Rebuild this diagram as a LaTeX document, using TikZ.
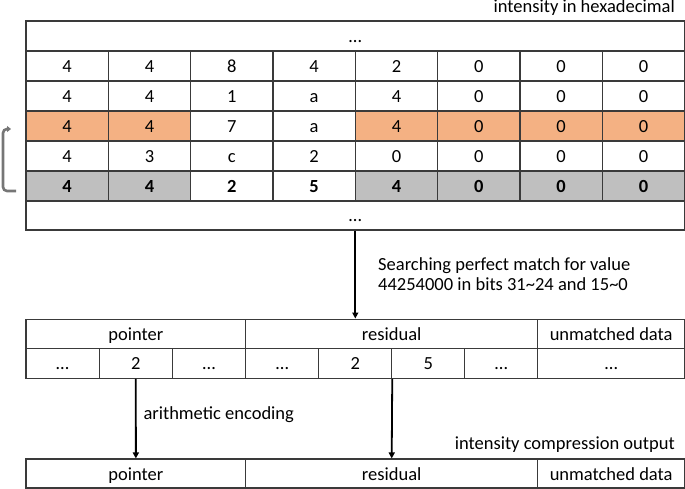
\documentclass[tikz,border=0pt]{standalone}
\usepackage{fontspec}
\setmainfont{Carlito}
\usetikzlibrary{arrows.meta}
\definecolor{lineC}{HTML}{3A3A3A}
\definecolor{orangeC}{HTML}{F4B183}
\definecolor{grayC}{HTML}{BFBFBF}
\definecolor{bracketC}{HTML}{767676}
\begin{document}
\begin{tikzpicture}[x=1pt,y=-1pt,
  txt/.style={font=\fontsize{18.5}{21.5}\selectfont, inner sep=0pt},
  boxed/.style={txt, draw=lineC, line width=1.1pt, minimum height=30pt, anchor=center, text height=13pt, text depth=0pt},
  cell/.style={boxed, minimum width=82.325pt},
  arr/.style={line width=1.8pt, -{Triangle[length=6pt,width=6pt]}},
  label/.style={txt, align=left}]
\useasboundingbox (0,0) rectangle (685,489);

% top table
\node[boxed, minimum width=658.6pt] (top) at (355.3,36) {…};
\foreach \v [count=\i] in {4,4,8,4,2,0,0,0}
  \node[cell] (ra\i) at ({26+82.325*(\i-0.5)},66) {\v};
\foreach \v [count=\i] in {4,4,1,a,4,0,0,0}
  \node[cell] (rb\i) at ({26+82.325*(\i-0.5)},96) {\v};
\foreach \v/\f [count=\i] in {4/orangeC,4/orangeC,7/white,a/white,4/orangeC,0/orangeC,0/orangeC,0/orangeC}
  \node[cell, fill=\f] (rc\i) at ({26+82.325*(\i-0.5)},126) {\v};
\foreach \v [count=\i] in {4,3,c,2,0,0,0,0}
  \node[cell] (rd\i) at ({26+82.325*(\i-0.5)},156) {\v};
\foreach \v/\f [count=\i] in {4/grayC,4/grayC,2/white,5/white,4/grayC,0/grayC,0/grayC,0/grayC}
  \node[cell, fill=\f, font=\fontsize{18.5}{21.5}\selectfont\bfseries] (re\i) at ({26+82.325*(\i-0.5)},186) {\v};
\node[boxed, minimum width=658.6pt, minimum height=29pt] (bot) at (355.3,215.5) {…};

\node[txt, anchor=base east] (title) at (675,13) {intensity in hexadecimal};

% bracket
\coordinate (bkb) at (16,191);
\coordinate (bkt) at (11,129);
\draw[bracketC, line width=2.6pt, rounded corners=4pt, -{Triangle[length=4pt,width=6pt]}]
  (bkb) -- (3,191) -- (3,129) -- (bkt);

% middle table
\node[boxed, minimum width=219.7pt, minimum height=29.3pt] (mptr) at (135.85,333.7) {pointer};
\node[boxed, minimum width=292pt, minimum height=29.3pt] (mres) at (391.7,333.7) {residual};
\node[boxed, minimum width=146.9pt, minimum height=29.3pt] (mun) at (611.15,333.7) {unmatched data};
\foreach \v [count=\i] in {…,2,…}
  \node[boxed, minimum width=73.23pt] (mp\i) at ({26+73.23*(\i-0.5)},363.3) {\v};
\foreach \v [count=\i] in {…,2,5,…}
  \node[boxed, minimum width=73pt] (mr\i) at ({245.7+73*(\i-0.5)},363.3) {\v};
\node[boxed, minimum width=146.9pt] (mu) at (611.15,363.3) {…};

% output table
\node[boxed, minimum width=219.7pt, minimum height=29pt] (optr) at (135.85,473.5) {pointer};
\node[boxed, minimum width=292pt, minimum height=29pt] (ores) at (391.7,473.5) {residual};
\node[boxed, minimum width=146.9pt, minimum height=29pt] (oun) at (611.15,473.5) {unmatched data};

% labels
\node[label, anchor=base west] (search) at (378,270) {Searching perfect match for value};
\node[label, anchor=base west] (search2) at (378,290.7) {44254000 in bits 31\char`\~24 and 15\char`\~0};
\node[label, anchor=base west] (arith) at (143.3,419.3) {arithmetic encoding};
\node[txt, anchor=base east] (outlbl) at (675,449.3) {intensity compression output};

% arrows
\draw[arr] (bot.south) -- (bot.south |- mres.north);
\draw[arr] (mp2.south) -- (optr.north);
\draw[arr] (mr2.south east) -- (ores.north);
\end{tikzpicture}
\end{document}
